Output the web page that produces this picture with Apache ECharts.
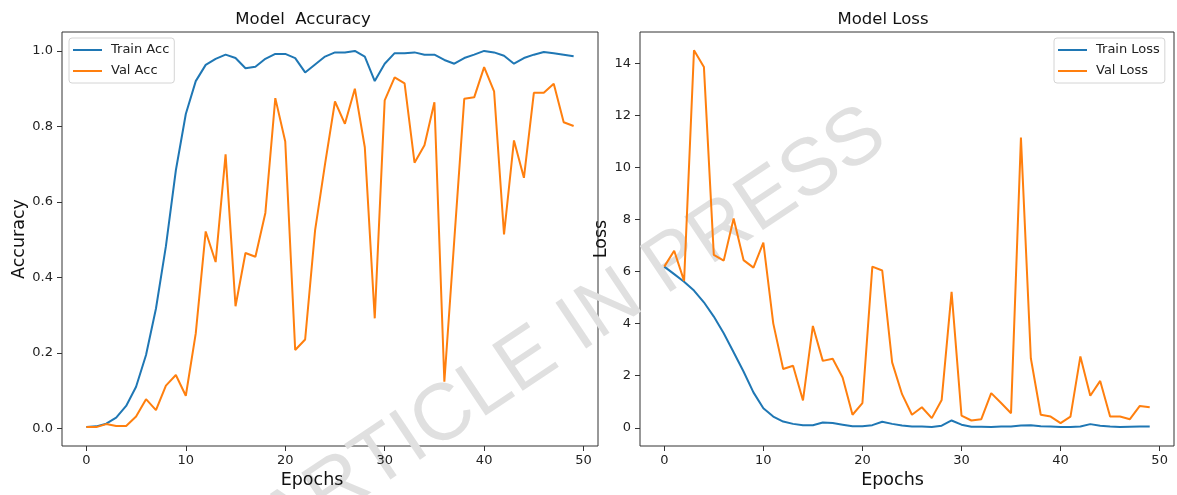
<!DOCTYPE html>
<html>
<head>
<meta charset="utf-8">
<title>Model Accuracy / Model Loss</title>
<script src="https://cdn.jsdelivr.net/npm/echarts@6/dist/echarts.min.js"></script>
<style>
  html, body { margin: 0; padding: 0; background: #fff; }
  #chart { width: 1177px; height: 495px; }
</style>
</head>
<body>
<div id="chart"></div>
<script>
// epochs 0..49
const epochs = [
  0, 1, 2, 3, 4, 5, 6, 7, 8, 9, 10, 11, 12, 13, 14, 15, 16, 17, 18, 19,
  20, 21, 22, 23, 24, 25, 26, 27, 28, 29, 30, 31, 32, 33, 34, 35, 36, 37, 38, 39,
  40, 41, 42, 43, 44, 45, 46, 47, 48, 49
];

const trainAcc = [
  0.004, 0.006, 0.013, 0.029, 0.06, 0.111, 0.195, 0.318, 0.483, 0.684,
  0.833, 0.92, 0.963, 0.979, 0.99, 0.981, 0.954, 0.958, 0.979, 0.992,
  0.992, 0.981, 0.943, 0.964, 0.985, 0.996, 0.996, 1.0, 0.985, 0.92,
  0.966, 0.994, 0.994, 0.996, 0.99, 0.99, 0.976, 0.966, 0.981, 0.99,
  1.0, 0.996, 0.987, 0.966, 0.981, 0.99, 0.997, 0.994, 0.99, 0.986
];

const valAcc = [
  0.004, 0.004, 0.012, 0.007, 0.007, 0.032, 0.078, 0.049, 0.114, 0.142,
  0.087, 0.252, 0.522, 0.441, 0.726, 0.324, 0.465, 0.455, 0.571, 0.875,
  0.76, 0.208, 0.236, 0.525, 0.70, 0.866, 0.807, 0.9, 0.745, 0.292,
  0.869, 0.93, 0.914, 0.704, 0.75, 0.864, 0.124, 0.50, 0.873, 0.877,
  0.957, 0.893, 0.514, 0.763, 0.664, 0.889, 0.889, 0.913, 0.811, 0.801
];

const trainLoss = [
  6.19, 5.9, 5.61, 5.27, 4.82, 4.27, 3.63, 2.9, 2.16, 1.36,
  0.75, 0.43, 0.24, 0.15, 0.1, 0.1, 0.2, 0.18, 0.12, 0.06,
  0.06, 0.1, 0.23, 0.15, 0.09, 0.05, 0.05, 0.03, 0.08, 0.28,
  0.12, 0.04, 0.04, 0.03, 0.05, 0.05, 0.09, 0.1, 0.06, 0.05,
  0.03, 0.03, 0.05, 0.14, 0.08, 0.05, 0.03, 0.04, 0.05, 0.05
];

const valLoss = [
  6.19, 6.8, 5.64, 14.5, 13.86, 6.64, 6.42, 8.04, 6.44, 6.15,
  7.11, 4.01, 2.26, 2.38, 1.05, 3.91, 2.57, 2.65, 1.93, 0.5,
  0.95, 6.19, 6.04, 2.51, 1.29, 0.5, 0.79, 0.37, 1.07, 5.22,
  0.47, 0.28, 0.33, 1.33, 0.95, 0.56, 11.15, 2.67, 0.5, 0.43,
  0.18, 0.43, 2.74, 1.23, 1.8, 0.43, 0.43, 0.33, 0.84, 0.79
];

const xTicks = [0, 10, 20, 30, 40, 50];
const accTicks = [0, 0.2, 0.4, 0.6, 0.8, 1.0];
const lossTicks = [0, 2, 4, 6, 8, 10, 12, 14];

const FONT = "DejaVu Sans";
const BLUE = "#1f77b4";
const ORANGE = "#ff7f0e";

const pairs = (ys) => epochs.map((e, i) => [e, ys[i]]);

const chart = echarts.init(document.getElementById("chart"));

function xAxisFor(gridIndex, namePad) {
  return {
    type: "value",
    gridIndex: gridIndex,
    min: -2.45,
    max: 51.45,
    name: "Epochs",
    nameLocation: "middle",
    nameGap: 22,
    nameTextStyle: { fontFamily: FONT, fontSize: 17.5, color: "#111", padding: [0, namePad, 0, 0] },
    axisLine: { show: false, onZero: false },
    splitLine: { show: false },
    axisTick: { show: true, length: 5, customValues: xTicks, lineStyle: { color: "#333" } },
    axisLabel: { customValues: xTicks, margin: 8, fontFamily: FONT, fontSize: 13, color: "#222" }
  };
}

function yAxisFor(gridIndex, name, min, max, ticks, fmt, gap) {
  return {
    type: "value",
    gridIndex: gridIndex,
    min: min,
    max: max,
    name: name,
    nameLocation: "middle",
    nameRotate: 90,
    nameGap: gap,
    nameTextStyle: { fontFamily: FONT, fontSize: 17.5, color: "#111" },
    axisLine: { show: false, onZero: false },
    splitLine: { show: false },
    axisTick: { show: true, length: 5, customValues: ticks, lineStyle: { color: "#333" } },
    axisLabel: { customValues: ticks, margin: 9, fontFamily: FONT, fontSize: 13, color: "#222", formatter: fmt }
  };
}

function legendAt(left, names) {
  return {
    left: left,
    top: 38,
    orient: "vertical",
    data: names,
    icon: "rect",
    itemWidth: 29,
    itemHeight: 2,
    itemGap: 5,
    padding: [4, 5, 4, 4],
    borderColor: "#d4d4d4",
    borderWidth: 1,
    borderRadius: 3,
    backgroundColor: "rgba(255,255,255,0.8)",
    textStyle: { fontFamily: FONT, fontSize: 13, color: "#222", lineHeight: 16, padding: [0, 0, 0, 4] }
  };
}

function line(name, xi, data, color) {
  return {
    name: name,
    type: "line",
    xAxisIndex: xi,
    yAxisIndex: xi,
    data: pairs(data),
    showSymbol: false,
    symbol: "none",
    lineStyle: { color: color, width: 2 },
    itemStyle: { color: color },
    z: 3
  };
}

chart.setOption({
  animation: false,
  backgroundColor: "#fff",
  title: [
    { text: "Model  Accuracy", left: 298, top: 6, textAlign: "center",
      textStyle: { fontFamily: FONT, fontSize: 16.5, fontWeight: "normal", color: "#111" } },
    { text: "Model Loss", left: 878, top: 6, textAlign: "center",
      textStyle: { fontFamily: FONT, fontSize: 16.5, fontWeight: "normal", color: "#111" } }
  ],
  legend: [
    legendAt(69, ["Train Acc", "Val Acc"]),
    legendAt(1054, ["Train Loss", "Val Loss"])
  ],
  grid: [
    { left: 62, right: 579, top: 32, bottom: 49, show: true, borderColor: "#333", borderWidth: 1 },
    { left: 640, right: 3, top: 32, bottom: 49, show: true, borderColor: "#333", borderWidth: 1 }
  ],
  xAxis: [xAxisFor(0, 36), xAxisFor(1, 29)],
  yAxis: [
    yAxisFor(0, "Accuracy", -0.046, 1.05, accTicks, (v) => v.toFixed(1), 34),
    yAxisFor(1, "Loss", -0.7, 15.2, lossTicks, (v) => String(v), 22)
  ],
  graphic: [
    {
      type: "text",
      x: 574,
      y: 330,
      rotation: 0.59,
      z: 0,
      silent: true,
      style: {
        text: "ARTICLE IN PRESS",
        font: 'normal 80px "Liberation Sans"',
        fill: "#e0e0e0",
        align: "center",
        verticalAlign: "middle"
      }
    }
  ],
  series: [
    line("Train Acc", 0, trainAcc, BLUE),
    line("Val Acc", 0, valAcc, ORANGE),
    line("Train Loss", 1, trainLoss, BLUE),
    line("Val Loss", 1, valLoss, ORANGE)
  ]
});
</script>
</body>
</html>
